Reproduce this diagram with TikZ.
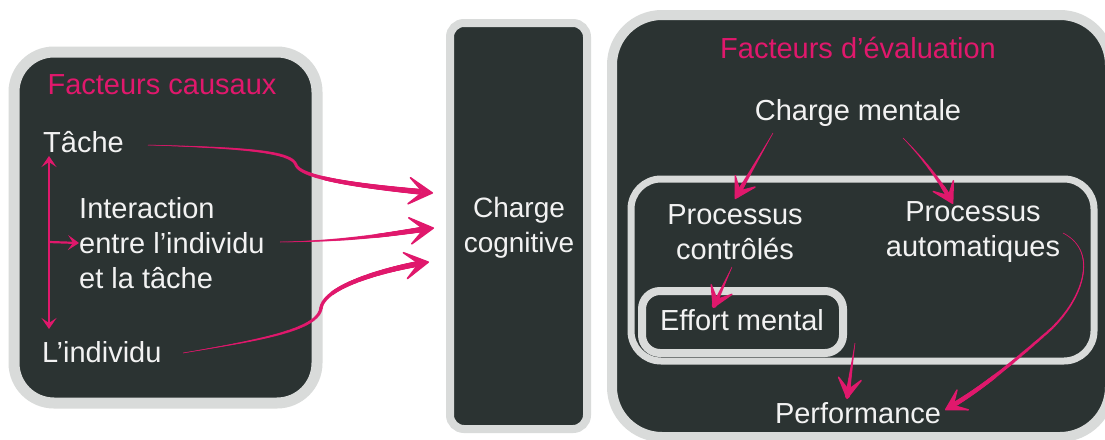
\documentclass[tikz,border=0pt]{standalone}
\usepackage{fontspec}
\setmainfont{Liberation Sans}
\usetikzlibrary{arrows.meta,decorations.markings}
\definecolor{dk}{HTML}{2B3332}
\definecolor{gr}{HTML}{D9DBDA}
\definecolor{pk}{HTML}{E0186C}
\definecolor{wt}{HTML}{F2F2F2}
\tikzset{
  panel/.style={fill=dk,draw=gr},
  txt/.style={inner sep=0pt,text=wt,font=\fontsize{29}{35}\selectfont},
  ttl/.style={txt,text=pk},
  taper/.style={postaction={decorate,decoration={markings,
    mark=between positions 0 and 0.95 step 0.8pt with {
      \pgfmathsetmacro\tr{0.25+#1*\pgfkeysvalueof{/pgf/decoration/mark info/distance from start}/\pgfdecoratedpathlength}
      \fill[pk] (0,0) circle[radius=\tr pt];}}}},
  bigarr/.style={draw=pk,line width=0.5pt,taper=2.8,
    -{Stealth[length=30pt,width=34pt,inset=18pt,line width=1.6pt,round]}},
  smallarr/.style={draw=pk,line width=0.5pt,taper=2.3,
    -{Stealth[length=25pt,width=29pt,inset=14pt,line width=1.4pt,round]}},
  thinarr/.style={draw=pk,line width=2.2pt,
    {Stealth[length=11pt,width=15pt,inset=5pt]}-{Stealth[length=11pt,width=15pt,inset=5pt]}},
}
\begin{document}
\begin{tikzpicture}[x=1pt,y=-1pt]
\useasboundingbox (0,0) rectangle (1105,439);
\fill[white] (0,0) rectangle (1105,439);
\begin{scope}
\clip (0,0) rectangle (1105,439);
% panels
\draw[panel,line width=11pt,rounded corners=40pt] (14,52) rectangle (317,403);
\draw[panel,line width=8pt,rounded corners=14pt] (450,23) rectangle (587,429);
\draw[panel,line width=10pt,rounded corners=50pt] (612,15) rectangle (1110,437);
\draw[panel,line width=7pt,rounded corners=30pt] (631,179) rectangle (1094,361);
\draw[panel,line width=8pt,rounded corners=18pt] (642,291) rectangle (843,353);
\end{scope}
% left panel texts
\node[ttl] (t1) at (162,85) {Facteurs causaux};
\node[txt,anchor=west] (tache) at (43,142) {Tâche};
\node[txt,anchor=west,align=left] (inter) at (79,243) {Interaction\\entre l’individu\\et la tâche};
\node[txt,anchor=west] (indiv) at (42,352) {L’individu};
% middle
\node[txt,align=center,font=\fontsize{28}{35}\selectfont] (cc) at (519,228) {Charge\\cognitive};
% right panel texts
\node[ttl] (t3) at (858,48) {Facteurs d’évaluation};
\node[txt] (cm) at (858,113) {Charge mentale};
\node[txt,align=center] (pc) at (735,232) {Processus\\contrôlés};
\node[txt,align=center] (pa) at (973,232) {Processus\\automatiques};
\node[txt] (em) at (742,320) {Effort mental};
\node[txt] (perf) at (858,413) {Performance};
% coordinates for connector ends
\coordinate (vtop) at (49,156);
\coordinate (vbot) at (49,329);
\coordinate (vmid) at (49,242);
\coordinate (a1s) at (148,145);
\coordinate (a1e) at (433,193);
\coordinate (a2s) at (280,242);
\coordinate (a2e) at (434,228);
\coordinate (a3s) at (183,353);
\coordinate (a3e) at (429,262);
\coordinate (b1s) at (773,133);
\coordinate (b1e) at (735,199);
\coordinate (b2s) at (903,138);
\coordinate (b2e) at (953,204);
\coordinate (b3s) at (732,267);
\coordinate (b3e) at (713,308);
\coordinate (b4s) at (855,343);
\coordinate (b4e) at (847,399);
\coordinate (b5s) at (1063,233);
\coordinate (b5e) at (945,410);
% left connectors
\draw[thinarr] (vtop) -- (vbot);
\draw[draw=pk,line width=2.2pt,-{Stealth[length=11pt,width=15pt,inset=5pt]}] (vmid) -- (inter.west);
% to charge cognitive
\draw[bigarr] (a1s) .. controls (250,148) and (292,152) .. (296,165) .. controls (302,180) and (380,188) .. (a1e);
\draw[bigarr] (a2s) .. controls (360,241) and (400,232) .. (a2e);
\draw[bigarr] (a3s) .. controls (260,340) and (318,330) .. (321,308) .. controls (325,285) and (390,268) .. (a3e);
% right panel connectors
\draw[smallarr] (b1s) -- (b1e);
\draw[smallarr] (b2s) .. controls (920,155) and (940,180) .. (b2e);
\draw[smallarr] (b3s) -- (b3e);
\draw[smallarr] (b4s) -- (b4e);
\draw[smallarr] (b5s) .. controls (1100,252) and (1082,300) .. (1050,330) .. controls (1010,365) and (980,390) .. (b5e);
\end{tikzpicture}
\end{document}
